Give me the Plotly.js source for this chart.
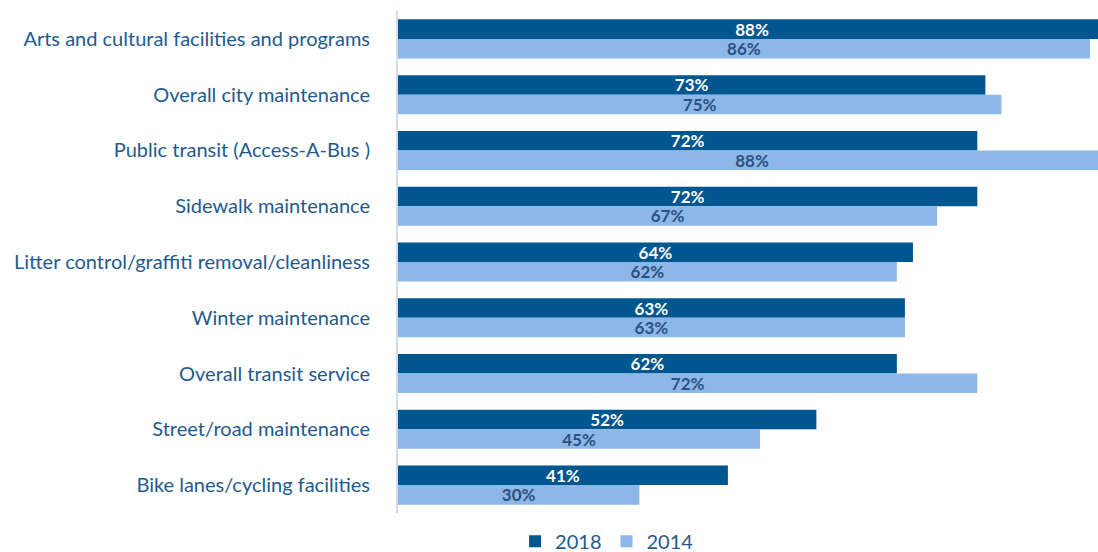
<!DOCTYPE html>
<html>
<head>
<meta charset="utf-8">
<script src="https://cdn.plot.ly/plotly-3.0.1.min.js"></script>
<style>html,body{margin:0;padding:0;background:#fff;}#chart{width:1098px;height:552px;}</style>
</head>
<body>
<div id="chart"></div>
<script>
const categories = [
  "Arts and cultural facilities and programs",
  "Overall city maintenance",
  "Public transit (Access-A-Bus )",
  "Sidewalk maintenance",
  "Litter control/graffiti removal/cleanliness",
  "Winter maintenance",
  "Overall transit service",
  "Street/road maintenance",
  "Bike lanes/cycling facilities"
];
const values2018 = [88, 73, 72, 72, 64, 63, 62, 52, 41];
const values2014 = [86, 75, 88, 67, 62, 63, 72, 45, 30];
const seriesNames = ["2018", "2014"];

const common = {
  type: 'bar',
  orientation: 'h',
  y: categories,
  textposition: 'inside',
  insidetextanchor: 'middle',
  constraintext: 'none',
  textangle: 0,
  texttemplate: '%{x}%',
  hoverinfo: 'skip',
  cliponaxis: true
};

const data = [
  Object.assign({}, common, {
    name: seriesNames[0],
    x: values2018,
    marker: {color: '#00568f'},
    textfont: {family: 'Lato', size: 17, color: '#ffffff', weight: 'bold'}
  }),
  Object.assign({}, common, {
    name: seriesNames[1],
    x: values2014,
    marker: {color: '#8db7e6'},
    textfont: {family: 'Lato', size: 17, color: '#2b5184', weight: 'bold'}
  })
];

const layout = {
  width: 1098,
  height: 552,
  margin: {l: 398, r: 0, t: 11, b: 39, autoexpand: false},
  paper_bgcolor: '#ffffff',
  plot_bgcolor: '#ffffff',
  barmode: 'group',
  bargap: 0.30,
  bargroupgap: 0,
  showlegend: true,
  legend: {
    orientation: 'h',
    x: 0.2987, xanchor: 'center',
    y: -0.095, yanchor: 'bottom',
    font: {family: 'Lato', size: 20, color: '#1f5a8e'},
    itemwidth: 30,
    itemgap: 8,
    tracegroupgap: 0
  },
  xaxis: {
    range: [0, 87],
    showgrid: false,
    zeroline: false,
    showline: false,
    showticklabels: false,
    fixedrange: true
  },
  yaxis: {
    autorange: 'reversed',
    showgrid: false,
    zeroline: false,
    showline: true,
    linecolor: '#cfdcec',
    linewidth: 2,
    ticks: '',
    ticklabelstandoff: 22,
    tickfont: {family: 'Lato', size: 20, color: '#1f5a8e'},
    fixedrange: true
  }
};

Plotly.newPlot('chart', data, layout, {displayModeBar: false, staticPlot: true});
</script>
</body>
</html>
